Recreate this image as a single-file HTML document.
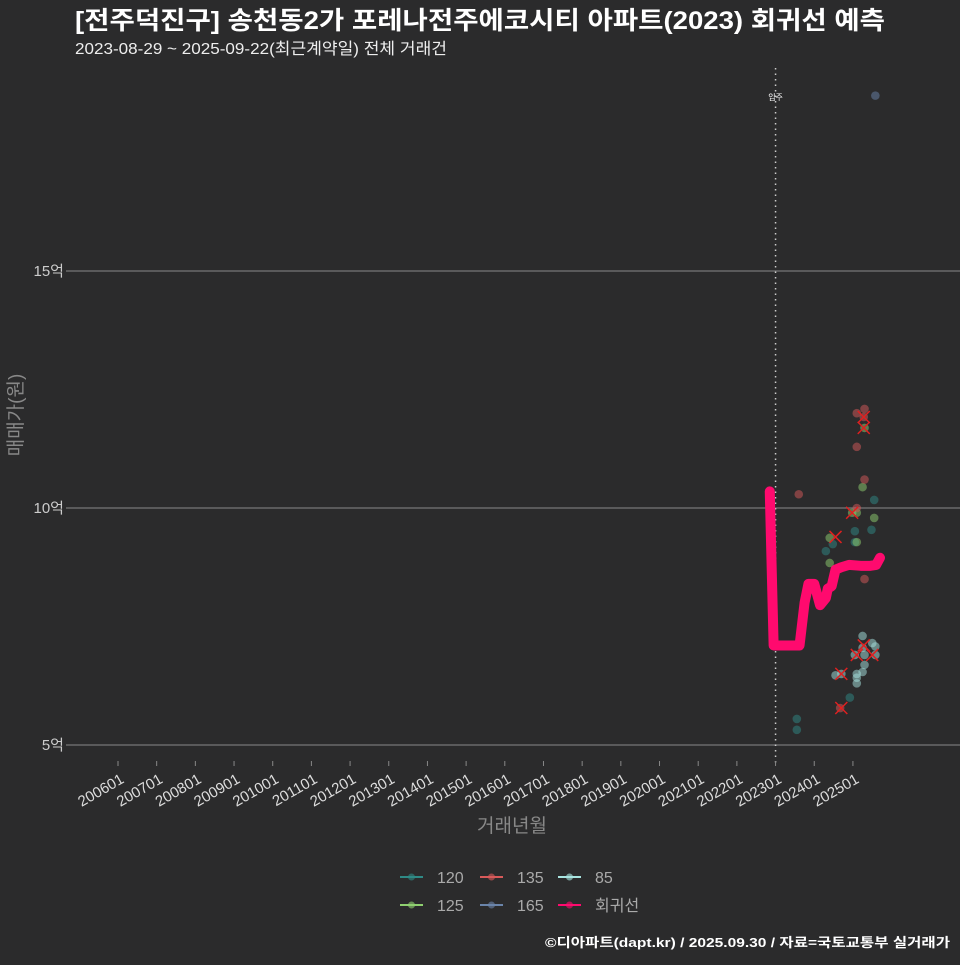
<!DOCTYPE html>
<html><head><meta charset="utf-8"><style>
body{margin:0;background:#2b2b2c;}
svg text{font-family:"Liberation Sans","Noto Sans CJK KR",sans-serif;}
</style></head><body>
<svg id="c" width="960" height="960" xmlns="http://www.w3.org/2000/svg">
<rect width="960" height="960" fill="#2b2b2c"/>
<text x="75" y="29" font-size="25" font-weight="bold" fill="#fff" textLength="810" lengthAdjust="spacingAndGlyphs">[전주덕진구] 송천동2가 포레나전주에코시티 아파트(2023) 회귀선 예측</text>
<text x="75" y="54" font-size="16" fill="#eee" textLength="372" lengthAdjust="spacingAndGlyphs">2023-08-29 ~ 2025-09-22(최근계약일) 전체 거래건</text>
<g id="grid"></g><g id="xt"></g><g id="pts"></g><g id="reg"></g><g id="xs"></g>
<text transform="translate(22,415) rotate(-90)" text-anchor="middle" font-size="19" fill="#888">매매가(원)</text>
<text x="512" y="832" text-anchor="middle" font-size="19" fill="#888">거래년월</text>
<g id="legend"></g>
<text x="950" y="947" text-anchor="end" font-size="13" font-weight="bold" fill="#fff" textLength="405" lengthAdjust="spacingAndGlyphs">©디아파트(dapt.kr) / 2025.09.30 / 자료=국토교통부 실거래가</text>
</svg>
<script>
const yTicks=[5,10,15];
const yTickLabels=["5억","10억","15억"];
const xTickYears=[2006,2007,2008,2009,2010,2011,2012,2013,2014,2015,2016,2017,2018,2019,2020,2021,2022,2023,2024,2025];
const moveInYear=2023.0;
const s120=[[2023.55,5.55],[2023.55,5.32],[2024.3,9.09],[2024.48,9.24],[2025.05,9.51],[2025.05,9.28],[2025.48,9.54],[2025.55,10.17],[2024.92,6.0]];
const s125=[[2025.25,10.44],[2025.55,9.79],[2025.1,9.9],[2025.1,9.28],[2024.4,9.37],[2024.4,8.84],[2025.3,11.69],[2024.98,9.9]];
const s135=[[2023.6,10.29],[2025.3,12.09],[2025.1,12.0],[2025.1,11.29],[2025.3,10.6],[2025.1,10.0],[2025.3,8.5],[2024.67,5.78],[2025.28,11.92]];
const s165=[[2025.58,18.7]];
const s85=[[2025.25,7.3],[2025.5,7.15],[2025.58,7.08],[2025.05,6.9],[2025.3,6.9],[2025.58,6.9],[2025.25,7.05],[2025.3,6.69],[2025.1,6.5],[2025.25,6.54],[2025.1,6.42],[2025.1,6.3],[2024.55,6.47],[2024.7,6.5]];
const xMarks=[[2024.55,9.39],[2024.98,9.9],[2025.28,11.92],[2025.28,11.69],[2024.7,6.5],[2024.7,5.78],[2025.28,7.1],[2025.1,6.9],[2025.5,6.9]];
const regYears=[2022.85,2022.95,2023.0,2023.3,2023.62,2023.75,2023.85,2024.0,2024.15,2024.3,2024.35,2024.45,2024.55,2024.7,2024.9,2025.2,2025.45,2025.6,2025.7];
const regVals=[10.35,7.1,7.1,7.1,7.1,8.0,8.4,8.4,7.95,8.1,8.3,8.35,8.7,8.75,8.8,8.78,8.78,8.8,8.95];
const X=y=>118+(y-2006)*38.68;
const Y=v=>508-(v-10)*47.4;
const NS='http://www.w3.org/2000/svg';
function el(t,a,p){const e=document.createElementNS(NS,t);for(const k in a)e.setAttribute(k,a[k]);document.getElementById(p).appendChild(e);return e;}
yTicks.forEach((v,i)=>{
 let l=el('line',{x1:70,x2:960,y1:Y(v),y2:Y(v),stroke:'#777','stroke-width':1.2},'grid');
 
 
 let tk=el('line',{x1:66,x2:70,y1:Y(v),y2:Y(v),stroke:'#888'},'grid');
 
 
 let t=el('text',{x:64,y:Y(v)+5,'text-anchor':'end','font-size':15,fill:'#ccc'},'grid');t.textContent=yTickLabels[i];
 
 
});
let ml=el('line',{x1:X(moveInYear),x2:X(moveInYear),y1:68,y2:766,stroke:'#ccc','stroke-width':1.5,'stroke-dasharray':'1.5,4'},'grid');


let mt=el('text',{x:X(moveInYear),y:100,'text-anchor':'middle','font-size':8,fill:'#fff'},'grid');mt.textContent='입주';


xTickYears.forEach(yr=>{
 const x=X(yr);
 let tk=el('line',{x1:x,x2:x,y1:761,y2:766,stroke:'#888'},'xt');
 
 
 let t=el('text',{transform:`translate(${x+7},${782}) rotate(-30)`,'text-anchor':'end','font-size':15,fill:'#ddd'},'xt');t.textContent=yr+'01';
 
 
});
function pts(arr,col,name){arr.forEach(p=>{
 let c=el('circle',{cx:X(p[0]),cy:Y(p[1]),r:4.3,fill:col,'fill-opacity':0.5},'pts');
 
 
});}
pts(s120,'#2f8a86','point-120');pts(s125,'#8fd070','point-125');pts(s135,'#d85a5a','point-135');pts(s165,'#6a84aa','point-165');pts(s85,'#a8e4e0','point-85');
let d=regYears.map((y,i)=>(i?'L':'M')+X(y)+','+Y(regVals[i])).join(' ');
let rp=el('path',{d:d,fill:'none',stroke:'#ff0a6e','stroke-width':10,'stroke-linejoin':'round','stroke-linecap':'round'},'reg');


xMarks.forEach(p=>{const x=X(p[0]),y=Y(p[1]);
 let m=el('path',{d:`M${x-6},${y-6}L${x+6},${y+6}M${x-6},${y+6}L${x+6},${y-6}`,stroke:'#e02020','stroke-width':1.5},'xs');
 
 
});
const legItems=[['120','#2f8a86',400,877],['135','#d85a5a',480,877],['85','#a8e4e0',558,877],['125','#8fd070',400,905],['165','#6a84aa',480,905],['회귀선','#ff0a6e',558,905]];
legItems.forEach(it=>{
 let g=el('g',{},'legend');
 
 
 let l=document.createElementNS(NS,'line');l.setAttribute('x1',it[2]);l.setAttribute('x2',it[2]+23);l.setAttribute('y1',it[3]);l.setAttribute('y2',it[3]);l.setAttribute('stroke',it[1]);l.setAttribute('stroke-width',2);g.appendChild(l);
 let c=document.createElementNS(NS,'circle');c.setAttribute('cx',it[2]+11.5);c.setAttribute('cy',it[3]);c.setAttribute('r',3.5);c.setAttribute('fill',it[1]);c.setAttribute('fill-opacity',0.6);g.appendChild(c);
 let t=document.createElementNS(NS,'text');t.setAttribute('x',it[2]+37);t.setAttribute('y',it[3]+6);t.setAttribute('font-size',16);t.setAttribute('fill','#aaa');t.textContent=it[0];g.appendChild(t);
});
</script>
</body></html>
